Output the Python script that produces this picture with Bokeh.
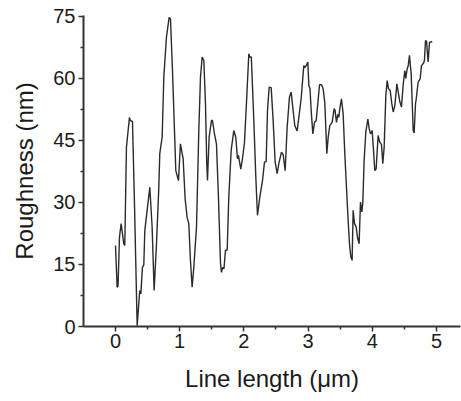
from bokeh.plotting import figure
from bokeh.models import Range1d, FixedTicker
from bokeh.embed import file_html
from bokeh.resources import INLINE

x_um = [0.000, 0.026, 0.040, 0.062, 0.088, 0.130, 0.145, 0.171, 0.218, 0.231, 0.265, 0.296,
        0.338, 0.363, 0.378, 0.395, 0.420, 0.441, 0.457, 0.493, 0.535, 0.571, 0.602, 0.639,
        0.675, 0.690, 0.727, 0.753, 0.794, 0.836, 0.857, 0.888, 0.940, 0.981, 1.012, 1.030,
        1.054, 1.085, 1.116, 1.142, 1.168, 1.194, 1.220, 1.262, 1.298, 1.324, 1.350, 1.376,
        1.402, 1.422, 1.433, 1.459, 1.495, 1.510, 1.542, 1.573, 1.604, 1.636, 1.651, 1.670,
        1.690, 1.713, 1.740, 1.765, 1.802, 1.843, 1.874, 1.900, 1.915, 1.952, 1.978, 2.009,
        2.040, 2.077, 2.090, 2.116, 2.155, 2.186, 2.212, 2.248, 2.290, 2.321, 2.347, 2.368,
        2.394, 2.425, 2.456, 2.487, 2.518, 2.544, 2.586, 2.612, 2.643, 2.674, 2.710, 2.736,
        2.767, 2.793, 2.830, 2.856, 2.892, 2.933, 2.950, 2.970, 2.996, 3.012, 3.030, 3.048,
        3.074, 3.100, 3.126, 3.152, 3.178, 3.209, 3.235, 3.261, 3.282, 3.292, 3.313, 3.338,
        3.375, 3.406, 3.420, 3.442, 3.463, 3.478, 3.494, 3.520, 3.546, 3.572, 3.598, 3.624,
        3.645, 3.666, 3.686, 3.702, 3.723, 3.749, 3.769, 3.795, 3.816, 3.837, 3.853, 3.873,
        3.899, 3.931, 3.952, 3.972, 3.998, 4.019, 4.039, 4.060, 4.091, 4.117, 4.143, 4.164,
        4.185, 4.211, 4.232, 4.253, 4.279, 4.304, 4.326, 4.352, 4.383, 4.404, 4.430, 4.455,
        4.481, 4.507, 4.522, 4.543, 4.560, 4.579, 4.606, 4.626, 4.637, 4.652, 4.673, 4.685,
        4.699, 4.715, 4.746, 4.766, 4.797, 4.812, 4.829, 4.845, 4.870, 4.891, 4.912, 4.933]

roughness_nm = [19.6, 9.5, 9.8, 21.6, 24.9, 20.0, 19.6, 43.4, 50.6, 49.8, 49.6, 29.7,
                0.2, 5.5, 8.7, 7.9, 14.3, 14.9, 23.2, 28.1, 33.7, 24.0, 8.7, 20.0,
                33.7, 41.8, 45.8, 60.3, 70.0, 74.8, 74.4, 61.9, 37.7, 35.3, 44.2, 42.6,
                40.6, 30.9, 26.4, 24.9, 15.9, 9.5, 14.3, 24.0, 47.4, 60.3, 65.2, 64.4,
                53.9, 39.4, 35.3, 45.8, 49.8, 49.9, 46.6, 44.2, 31.3, 15.2, 13.1, 14.3,
                14.0, 18.4, 18.5, 31.3, 42.6, 47.4, 45.8, 40.6, 41.4, 38.1, 40.6, 44.4,
                54.0, 66.0, 65.2, 65.2, 49.8, 36.1, 26.9, 31.3, 35.3, 39.8, 39.9, 52.3,
                57.9, 57.8, 49.8, 39.8, 37.0, 39.4, 42.2, 41.6, 37.7, 48.2, 55.5, 56.7,
                52.3, 48.6, 47.3, 50.6, 55.1, 63.1, 62.6, 63.1, 64.0, 58.3, 57.5, 52.3,
                46.6, 49.4, 49.8, 54.0, 58.5, 58.5, 57.5, 54.0, 45.8, 41.8, 45.8, 48.6,
                49.4, 52.7, 52.3, 49.4, 51.3, 50.6, 52.7, 55.1, 51.5, 41.8, 33.7, 25.6,
                20.0, 16.8, 16.0, 28.1, 24.9, 24.1, 21.6, 20.0, 30.1, 27.7, 30.1, 40.2,
                47.0, 50.2, 47.8, 46.6, 47.4, 42.6, 37.7, 38.1, 46.2, 44.6, 44.0, 39.4,
                43.4, 55.9, 59.5, 57.5, 57.1, 53.9, 51.9, 53.5, 58.7, 56.7, 54.3, 53.1,
                58.5, 61.9, 60.0, 62.3, 63.1, 65.6, 61.1, 52.3, 47.4, 46.8, 53.9, 55.1,
                57.1, 59.1, 59.9, 63.1, 63.7, 64.3, 69.2, 69.0, 64.0, 68.8, 68.8, 69.0]

x_ticks = [0, 1, 2, 3, 4, 5]
y_ticks = [0, 15, 30, 45, 60, 75]
x_minor = [-0.5, 0.5, 1.5, 2.5, 3.5, 4.5]
y_minor = [7.5, 22.5, 37.5, 52.5, 67.5]

FONT = "Liberation Sans"
INK = "#1a1a1a"

p = figure(width=461, height=401, output_backend="svg", toolbar_location=None,
           x_range=Range1d(-0.498, 5.374), y_range=Range1d(0, 75.24),
           min_border_left=83, min_border_right=1, min_border_top=15, min_border_bottom=75,
           x_axis_label="Line length (\u03bcm)", y_axis_label="Roughness (nm)")

p.line(x_um, roughness_nm, line_color="#2b2b2b", line_width=1.4)

p.grid.visible = False
p.outline_line_color = None
p.background_fill_color = "white"
p.border_fill_color = "white"

p.xaxis.ticker = FixedTicker(ticks=x_ticks, minor_ticks=x_minor)
p.yaxis.ticker = FixedTicker(ticks=y_ticks, minor_ticks=y_minor)

for ax in (p.xaxis[0], p.yaxis[0]):
    ax.axis_line_color = "#333333"
    ax.axis_line_width = 2
    ax.major_tick_line_color = "#333333"
    ax.major_tick_line_width = 1.5
    ax.minor_tick_line_color = "#333333"
    ax.minor_tick_line_width = 1.5
    ax.major_tick_in = 0
    ax.major_tick_out = 5
    ax.minor_tick_in = 0
    ax.minor_tick_out = 3
    ax.major_label_text_font = FONT
    ax.major_label_text_font_size = "20px"
    ax.major_label_text_color = INK
    ax.axis_label_text_font = FONT
    ax.axis_label_text_font_size = "24px"
    ax.axis_label_text_font_style = "normal"
    ax.axis_label_text_color = INK

p.xaxis.major_label_standoff = 2
p.yaxis.major_label_standoff = 3
p.xaxis.axis_label_standoff = 14
p.yaxis.axis_label_standoff = 12

open("out.html", "w").write(file_html(p, INLINE))
